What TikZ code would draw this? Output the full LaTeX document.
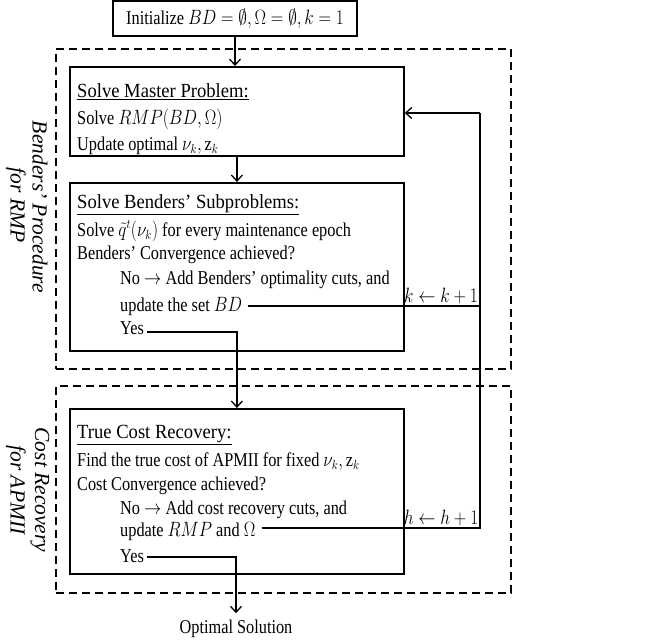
\documentclass[tikz,border=0pt]{standalone}
\usepackage{fontspec}
\usepackage{graphicx}
\setmainfont{Liberation Serif}
\usetikzlibrary{arrows.meta}
\newcommand\tallt[1]{\scalebox{1}[1.2]{#1}}
\newcommand\headt[1]{{\fontsize{18.6}{22}\selectfont\scalebox{1}[1.08]{\underline{#1}}}}
\begin{document}
\begin{tikzpicture}[x=1pt,y=-1pt,
  box/.style={draw,line width=1.8pt,anchor=north west,inner sep=0pt},
  dbox/.style={draw,line width=1.6pt,dash pattern=on 8pt off 5pt,anchor=north west,inner sep=0pt},
  txt/.style={anchor=base west,inner sep=0pt,font=\fontsize{16.3}{20}\selectfont},
  conn/.style={line width=1.3pt},
  arr/.style={conn,-{Straight Barb[length=6pt,width=11pt]}},
  side/.style={font=\fontsize{21.5}{24}\selectfont\itshape,rotate=-90,inner sep=0pt}]
\useasboundingbox (0,0) rectangle (657,641);
% dashed regions
\node[dbox,minimum width=455pt,minimum height=320pt] (reg1) at (55,48) {};
\node[dbox,minimum width=455pt,minimum height=207pt] (reg2) at (55,385) {};
% boxes
\node[draw,line width=1.8pt,minimum width=244pt,minimum height=35pt,inner sep=0pt,
  font=\fontsize{16.3}{20}\selectfont] (init) at (235,18.5) {\tallt{Initialize $BD=\emptyset,\Omega=\emptyset,k=1$}};
\node[box,minimum width=334pt,minimum height=89pt] (master) at (69,66) {};
\node[box,minimum width=334pt,minimum height=168pt] (sub) at (69,182) {};
\node[box,minimum width=334pt,minimum height=165pt] (cost) at (69,408) {};
% master text
\node[txt] (m1) at (77,97) {\headt{Solve Master Problem:}};
\node[txt] (m2) at (77,124) {\tallt{Solve $RMP(BD,\Omega)$}};
\node[txt] (m3) at (77,150) {\tallt{Update optimal $\nu_k,\mathrm{z}_k$}};
% sub text
\node[txt] (s1) at (77,208) {\headt{Solve Benders' Subproblems:}};
\node[txt] (s2) at (77,236) {\tallt{Solve $\tilde{q}^t(\nu_k)$ for every maintenance epoch}};
\node[txt] (s3) at (77,259) {\tallt{Benders' Convergence achieved?}};
\node[txt] (s4) at (120,284) {\tallt{No $\rightarrow$ Add Benders' optimality cuts, and}};
\node[txt] (s5) at (120,311) {\tallt{update the set $BD$}};
\node[txt] (s6) at (120,334) {\tallt{Yes}};
% cost text
\node[txt] (c1) at (77,438) {\headt{True Cost Recovery:}};
\node[txt] (c2) at (77,466) {\tallt{Find the true cost of APMII for fixed $\nu_k,\mathrm{z}_k$}};
\node[txt] (c3) at (77,490) {\tallt{Cost Convergence achieved?}};
\node[txt] (c4) at (120,514) {\tallt{No $\rightarrow$ Add cost recovery cuts, and}};
\node[txt] (c5) at (120,536) {\tallt{update $RMP$ and $\Omega$}};
\node[txt] (c6) at (120,562) {\tallt{Yes}};
% side labels
\node[side] (l1) at (40,207) {Benders' Procedure};
\node[side] (l2) at (16,205) {for RMP};
\node[side] (l3) at (40,490) {Cost Recovery};
\node[side] (l4) at (16,490) {for APMII};
% labels on feedback
\node[anchor=base,inner sep=0pt,font=\fontsize{16.3}{20}\selectfont] (kk) at (441,302) {\tallt{$k\leftarrow k+1$}};
\node[anchor=base,inner sep=0pt,font=\fontsize{16.3}{20}\selectfont] (hh) at (441,524) {\tallt{$h\leftarrow h+1$}};
\node[anchor=base,inner sep=0pt,font=\fontsize{16.3}{20}\selectfont] (opt) at (236,633) {\tallt{Optimal Solution}};
% connectors
\coordinate (fb) at (480,113);
\draw[arr] (init.south) -- (init.south |- master.north);
\draw[arr] (master.south) -- (sub.north);
\draw[arr] ([xshift=3pt,yshift=2pt]s6.base east) -| (cost.north);
\draw[conn] ([xshift=6pt,yshift=5pt]s5.base east) -| (fb);
\draw[conn] ([xshift=6pt,yshift=8pt]c5.base east) -| (fb);
\draw[arr] (fb) -- (fb -| master.east);
\draw[arr] ([xshift=3pt,yshift=5pt]c6.base east) -| ([yshift=6pt]opt.north);
\end{tikzpicture}
\end{document}
